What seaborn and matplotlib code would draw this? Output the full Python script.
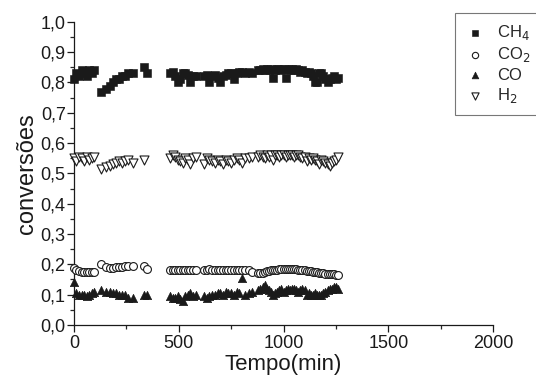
import numpy as np
import pandas as pd
import matplotlib
matplotlib.use("Agg")
import matplotlib.pyplot as plt
from matplotlib.ticker import MultipleLocator, FuncFormatter
import seaborn as sns

# Sampling times (min)
tempo = [0, 12, 24, 36, 48, 60, 72, 84, 96,
         130, 155, 170, 185, 200, 215, 230, 245, 260, 280,
         335, 350,
         460, 472, 484, 496, 508, 520, 532, 544, 556, 568, 580,
         620, 633, 646, 659, 672, 685, 698, 711, 724, 737, 750, 763, 776, 789, 802, 815, 835, 850,
         880, 890, 900, 910, 920, 930, 940, 950, 960, 970, 980, 990, 1000, 1010, 1020, 1030,
         1040, 1050, 1060, 1070, 1080, 1090, 1100, 1110, 1120, 1130, 1140, 1150, 1160, 1170,
         1180, 1190, 1200, 1210, 1220, 1230, 1240, 1250, 1260]

ch4 = [0.81, 0.83, 0.82, 0.84, 0.83, 0.82, 0.84, 0.83, 0.84,
       0.77, 0.78, 0.79, 0.80, 0.81, 0.81, 0.82, 0.82, 0.83, 0.83,
       0.85, 0.83,
       0.83, 0.835, 0.82, 0.80, 0.81, 0.83, 0.83, 0.825, 0.80, 0.82, 0.82,
       0.82, 0.825, 0.80, 0.82, 0.825, 0.815, 0.80, 0.82, 0.825, 0.83, 0.83, 0.81, 0.83, 0.835, 0.835, 0.83, 0.835, 0.83,
       0.84, 0.84, 0.845, 0.84, 0.845, 0.84, 0.845, 0.815, 0.84, 0.845, 0.845, 0.84, 0.845, 0.815, 0.845, 0.84,
       0.845, 0.84, 0.845, 0.84, 0.835, 0.84, 0.835, 0.83, 0.835, 0.83, 0.82, 0.80, 0.80, 0.83,
       0.83, 0.82, 0.81, 0.80, 0.81, 0.815, 0.82, 0.81, 0.815]

co2 = [0.188, 0.18, 0.177, 0.176, 0.176, 0.176, 0.176, 0.176, 0.176,
       0.20, 0.19, 0.188, 0.188, 0.19, 0.19, 0.192, 0.193, 0.193, 0.193,
       0.193, 0.185,
       0.18, 0.18, 0.181, 0.18, 0.18, 0.18, 0.18, 0.181, 0.18, 0.18, 0.18,
       0.18, 0.182, 0.183, 0.18, 0.18, 0.18, 0.18, 0.181, 0.18, 0.18, 0.18, 0.18, 0.18, 0.181, 0.18, 0.182, 0.18, 0.175,
       0.172, 0.17, 0.172, 0.175, 0.177, 0.178, 0.18, 0.181, 0.182, 0.182, 0.183, 0.183, 0.183, 0.183, 0.183, 0.183,
       0.183, 0.183, 0.183, 0.182, 0.182, 0.181, 0.18, 0.179, 0.178, 0.177, 0.176, 0.175, 0.173, 0.172,
       0.171, 0.17, 0.169, 0.168, 0.168, 0.167, 0.167, 0.166, 0.166]

co = [0.143, 0.105, 0.10, 0.10, 0.10, 0.095, 0.10, 0.105, 0.11,
      0.115, 0.11, 0.108, 0.105, 0.105, 0.10, 0.10, 0.10, 0.09, 0.09,
      0.10, 0.10,
      0.095, 0.09, 0.09, 0.095, 0.085, 0.08, 0.095, 0.10, 0.105, 0.095, 0.10,
      0.095, 0.09, 0.095, 0.10, 0.10, 0.105, 0.105, 0.10, 0.11, 0.105, 0.105, 0.10, 0.11, 0.105, 0.155, 0.10, 0.105, 0.11,
      0.115, 0.12, 0.125, 0.13, 0.12, 0.115, 0.11, 0.10, 0.105, 0.11, 0.115, 0.12, 0.11, 0.115, 0.12, 0.115,
      0.12, 0.12, 0.115, 0.11, 0.115, 0.12, 0.115, 0.10, 0.105, 0.10, 0.10, 0.105, 0.10, 0.10,
      0.10, 0.105, 0.11, 0.115, 0.12, 0.12, 0.125, 0.125, 0.12]

h2 = [0.55, 0.54, 0.555, 0.55, 0.54, 0.555, 0.545, 0.55, 0.555,
      0.515, 0.52, 0.525, 0.53, 0.535, 0.54, 0.535, 0.54, 0.545, 0.535,
      0.545, np.nan,
      0.55, 0.56, 0.555, 0.545, 0.54, 0.535, 0.55, 0.545, 0.53, 0.55, 0.555,
      0.53, 0.55, 0.545, 0.54, 0.535, 0.545, 0.54, 0.53, 0.545, 0.54, 0.535, 0.545, 0.55, 0.545, 0.535, 0.55, 0.55, 0.555,
      0.555, 0.56, 0.555, 0.55, 0.56, 0.555, 0.56, 0.545, 0.56, 0.56, 0.555, 0.56, 0.56, 0.555, 0.56, 0.56,
      0.56, 0.555, 0.56, 0.56, 0.555, 0.55, 0.555, 0.54, 0.55, 0.545, 0.55, 0.545, 0.54, 0.53,
      0.545, 0.54, 0.535, 0.53, 0.525, 0.535, 0.54, 0.545, 0.555]

series = [
    ("CH$_4$", ch4, dict(marker="s", color="#1a1a1a", edgecolor="#1a1a1a", s=28)),
    ("CO$_2$", co2, dict(marker="o", facecolor="white", edgecolor="#1a1a1a", s=32, linewidth=0.8)),
    ("CO", co, dict(marker="^", color="#1a1a1a", edgecolor="#1a1a1a", s=36)),
    ("H$_2$", h2, dict(marker="v", facecolor="white", edgecolor="#1a1a1a", s=42, linewidth=0.8)),
]

sns.set_style("ticks")
plt.rcParams["font.family"] = ["Liberation Sans", "DejaVu Sans"]

fig = plt.figure(figsize=(5.36, 3.84), dpi=100)
ax = fig.add_axes([0.138, 0.154, 0.782, 0.789])

for label, vals, kw in series:
    df = pd.DataFrame({"Tempo": tempo, "conv": vals})
    sns.scatterplot(data=df, x="Tempo", y="conv", ax=ax, label=label,
                    clip_on=False, zorder=3, **kw)

ax.set_xlim(0, 2000)
ax.set_ylim(0, 1.0)
ax.xaxis.set_major_locator(MultipleLocator(500))
ax.xaxis.set_minor_locator(MultipleLocator(250))
ax.yaxis.set_major_locator(MultipleLocator(0.1))
ax.yaxis.set_minor_locator(MultipleLocator(0.05))
ax.yaxis.set_major_formatter(FuncFormatter(lambda v, p: f"{v:.1f}".replace(".", ",")))
ax.tick_params(which="major", direction="out", length=5, width=0.9, labelsize=13, colors="#1a1a1a")
ax.tick_params(which="minor", direction="out", length=3, width=0.9)
ax.tick_params(axis="x", pad=2)
ax.tick_params(axis="y", pad=1)
sns.despine(ax=ax)
for sp in ("left", "bottom"):
    ax.spines[sp].set_linewidth(0.9)
    ax.spines[sp].set_color("#1a1a1a")

ax.set_xlabel("Tempo(min)", fontsize=16, color="#1a1a1a", labelpad=2)
ax.set_ylabel("conversões", fontsize=17, color="#1a1a1a", labelpad=2)

leg = ax.legend(loc="upper left", bbox_to_anchor=(455 / 536, 1 - 13 / 384),
                bbox_transform=fig.transFigure, borderaxespad=0, fontsize=12,
                frameon=True, fancybox=False, edgecolor="#555555", markerscale=0.8,
                handletextpad=0.7, borderpad=0.6, labelspacing=0.2,
                handlelength=1.2)
leg.get_frame().set_linewidth(0.8)

fig.savefig("out.png", dpi=100)
